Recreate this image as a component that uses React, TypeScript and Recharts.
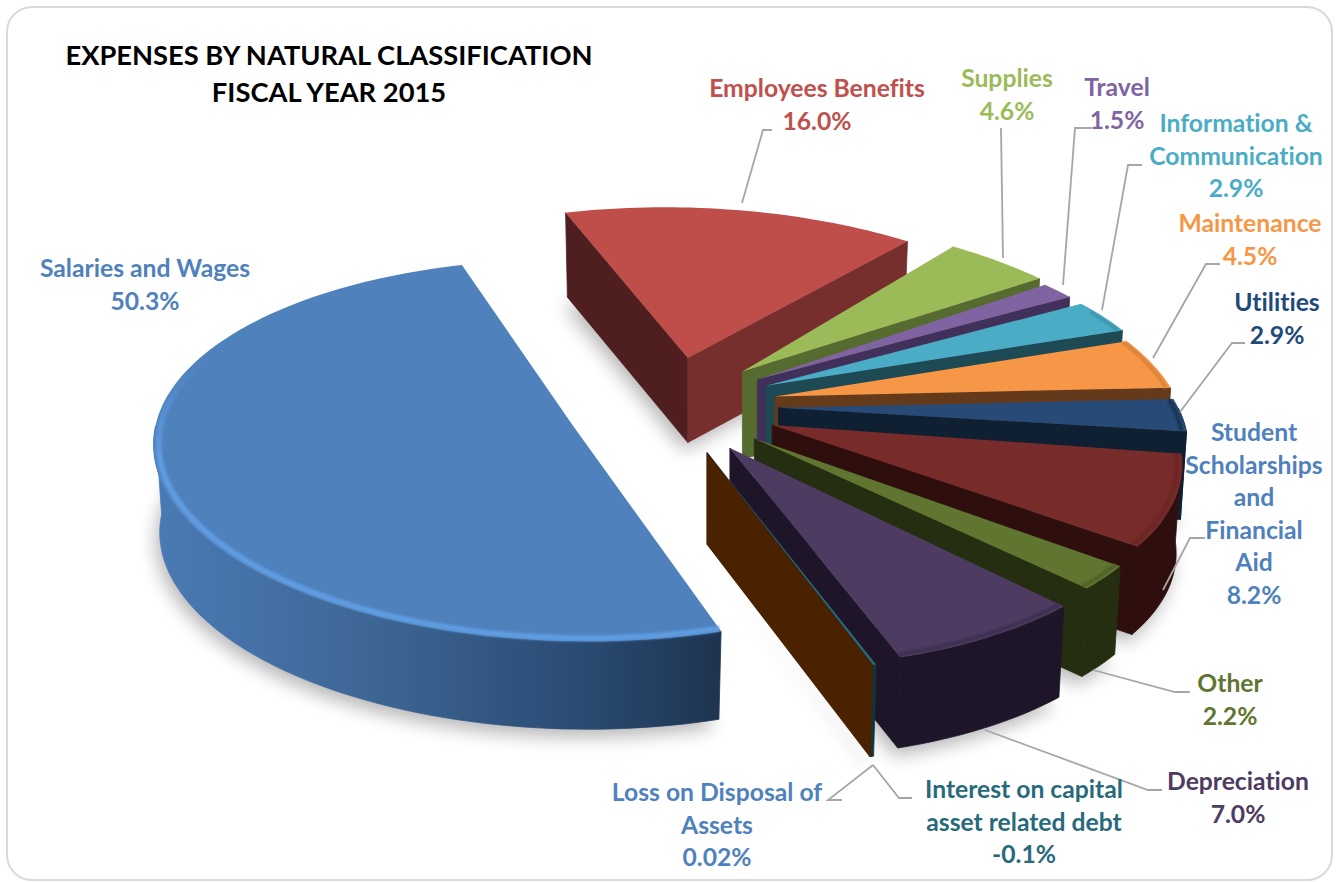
import { PieChart, Pie } from 'recharts'

const categories = [
  'Salaries and Wages',
  'Employees Benefits',
  'Supplies',
  'Travel',
  'Information & Communication',
  'Maintenance',
  'Utilities',
  'Student Scholarships and Financial Aid',
  'Other',
  'Depreciation',
  'Interest on capital asset related debt',
  'Loss on Disposal of Assets',
]
const shares = [50.3, 16.0, 4.6, 1.5, 2.9, 4.5, 2.9, 8.2, 2.2, 7.0, 0.1, 0.02]
const shareLabels = ['50.3%', '16.0%', '4.6%', '1.5%', '2.9%', '4.5%', '2.9%', '8.2%', '2.2%', '7.0%', '-0.1%', '0.02%']

const topColors = ['#4f81bd', '#bf4e4b', '#9bbb59', '#8064a2', '#4bacc6', '#f79646', '#274b76', '#772b2a', '#5f7530', '#4d3b62', '#276a7c', '#4d2600']
const wallColors = ['#2f5078', '#772f2d', '#566b30', '#41315a', '#1e4a55', '#653a1b', '#0f2033', '#2f0f0e', '#262e11', '#1e1628', '#0f3540', '#4a2200']
const startWallColors = ['#2f5078', '#4e1f1e', '#566b30', '#41315a', '#1e4a55', '#653a1b', '#0f2033', '#2f0f0e', '#262e11', '#1e1628', '#0f3540', '#4a2200']
const rimColors = ['url(#blueRim)', '', '', '#6f5591', '#3d95ac', '#d9823a', '#16304f', '#6a2524', '#4d6026', '#3d2f50', '', '']
const labelColors = ['#4f81bd', '#c0504d', '#9bbb59', '#8064a2', '#4bacc6', '#f79646', '#1f497d', '#4f81bd', '#5f7530', '#4d3b62', '#276a7c', '#4f81bd']

// per-slice corrections for the distorted 3d view of the original
const radiusScale = [1, 0.995, 1.02, 1, 1, 0.98, 0.97, 0.96, 0.965, 0.985, 0.99, 0.99]
const angleTwist = [-0.7, 0, 2, 3, 2.5, 2.5, 2.5, 1, 0, -1.2, -1.2, -1.2]
const explodeAmount = [0.26, 0.27, 0.27, 0.27, 0.27, 0.27, 0.27, 0.27, 0.27, 0.27, 0.27, 0.27]
const explodeTurn = [10.5, -2.2, 0, -2, -2, -2, -2, -1, 0, 1, 1, 1]
const depthScale = [1, 0.96, 1, 1, 1, 1, 1, 1, 1, 1.03, 1.04, 1.04]

// wrapped label text, pie label placement and leader lines
const labelLines = [
  ['Salaries and Wages'],
  ['Employees Benefits'],
  ['Supplies'],
  ['Travel'],
  ['Information &', 'Communication'],
  ['Maintenance'],
  ['Utilities'],
  ['Student', 'Scholarships', 'and', 'Financial', 'Aid'],
  ['Other'],
  ['Depreciation'],
  ['Interest on capital', 'asset related debt'],
  ['Loss on Disposal of', 'Assets'],
]
const labelX = [145, 817, 1007, 1117, 1236, 1250, 1277, 1254, 1230, 1238, 1024, 717]
const labelY = [277, 97, 87, 96, 132, 232, 311, 441, 692, 790, 798, 801]
const leaders = [
  '',
  '772,130 763,130 742,203',
  '1001,128 1003,258',
  '1092,128 1075,128 1063,285',
  '1142,165 1128,165 1102,310',
  '1220,264 1206,264 1153,358',
  '1245,343 1232,343 1180,412',
  '1205,538 1190,538 1163,590',
  '1190,692 1175,692 1093,670',
  '1162,790 1148,790 985,730',
  '912,798 899,798 873,765',
  '842,800 828,800 873,765',
]

// camera: unit-circle plane to screen with a little perspective
const CX = 667
const CY = 404
const RX = 411
const RY = 182
const SKEW = -25
const PERSP = 0.129
const DEPTH = 88
const BOTTOM_SHRINK = 0.985

const project = (u: number, v: number) => {
  const w = 1 + PERSP * v
  return [CX + (RX * u + SKEW * v) / w, CY - (RY * v) / w]
}

const rad = (a: number) => (a * Math.PI) / 180

const toPath = (pts: number[][], close = true) =>
  pts.map((p, i) => `${i ? 'L' : 'M'}${p[0].toFixed(1)},${p[1].toFixed(1)}`).join(' ') + (close ? ' Z' : '')

function sliceGeometry(props: any) {
  const i = categories.indexOf(props.name)
  const startAngle = props.startAngle + angleTwist[i]
  const endAngle = props.endAngle + angleTwist[i]
  const mid = (startAngle + endAngle) / 2 + explodeTurn[i]
  const ex = explodeAmount[i] * Math.cos(rad(mid))
  const ey = explodeAmount[i] * Math.sin(rad(mid))
  const apex = project(ex, ey)
  const steps = Math.max(2, Math.ceil(Math.abs(endAngle - startAngle) / 1.5))
  const angles: number[] = []
  for (let s = 0; s <= steps; s++) angles.push(startAngle + ((endAngle - startAngle) * s) / steps)
  const at = (t: number, r = 1) =>
    project(ex + r * radiusScale[i] * Math.cos(rad(t)), ey + r * radiusScale[i] * Math.sin(rad(t)))
  // bottom face sits slightly narrower than the top one
  const down = (pts: number[][]) =>
    pts.map((p) => [apex[0] + (p[0] - apex[0]) * BOTTOM_SHRINK, p[1] + DEPTH * depthScale[i]])
  return { i, startAngle, endAngle, apex, angles, at, down }
}

function ShadowSlice(props: any) {
  const { apex, angles, at, down } = sliceGeometry(props)
  const arc = angles.map((t) => at(t))
  const pts = down([apex, ...arc]).map((p) => [p[0] - 4, p[1] + 8])
  return <path d={toPath(pts)} fill="#000" opacity={0.28} filter="url(#softShadow)" />
}

function Slice3D(props: any) {
  const { i, startAngle, endAngle, apex, angles, at, down } = sliceGeometry(props)
  const arc = angles.map((t) => at(t))
  const front = angles.filter((t) => Math.sin(rad(t)) < 0).map((t) => at(t))
  const rim = angles.filter((t) => Math.sin(rad(t)) < 0.45).map((t) => at(t, 0.988))
  const startPt = at(startAngle)
  const endPt = at(endAngle)
  const gradId = `wall-${i}`
  const wall = i === 0 ? `url(#${gradId})` : wallColors[i]
  return (
    <g>
      {i === 0 && (
        <defs>
          <linearGradient id={gradId} gradientUnits="userSpaceOnUse" x1="155" y1="0" x2="720" y2="0">
            <stop offset="0%" stopColor="#4a7ab5" />
            <stop offset="35%" stopColor="#3f6898" />
            <stop offset="75%" stopColor="#2a4b73" />
            <stop offset="100%" stopColor="#1e3450" />
          </linearGradient>
          <linearGradient id="blueRim" gradientUnits="userSpaceOnUse" x1="0" y1="360" x2="0" y2="460">
            <stop offset="0%" stopColor="#5f9be0" stopOpacity={0} />
            <stop offset="100%" stopColor="#5f9be0" stopOpacity={1} />
          </linearGradient>
        </defs>
      )}
      {front.length > 1 && (
        <path d={toPath([...front, ...down(front).reverse()])} fill={wall} stroke={wall} strokeWidth={0.8} />
      )}
      {Math.cos(rad(startAngle)) < 0 && (
        <path
          d={toPath([apex, startPt, ...down([startPt]), ...down([apex])])}
          fill={startWallColors[i]}
          stroke={startWallColors[i]}
          strokeWidth={0.8}
        />
      )}
      {Math.cos(rad(endAngle)) > 0 && (
        <path
          d={toPath([apex, endPt, ...down([endPt]), ...down([apex])])}
          fill={wallColors[i]}
          stroke={wallColors[i]}
          strokeWidth={0.8}
        />
      )}
      <path d={toPath([apex, ...arc])} fill={topColors[i]} />
      {rimColors[i] && rim.length > 2 && (
        <path
          d={toPath(rim, false)}
          fill="none"
          stroke={rimColors[i]}
          strokeWidth={i === 0 ? 6 : 3.5}
          filter="url(#softRim)"
        />
      )}
    </g>
  )
}

function renderLabel(props: any) {
  const i = props.index
  const lines = [...labelLines[i], shareLabels[i]]
  return (
    <g key={categories[i]}>
      {leaders[i] && <polyline points={leaders[i]} fill="none" stroke="#a6a6a6" strokeWidth={1.8} />}
      <text
        textAnchor="middle"
        fontFamily="Lato, sans-serif"
        fontWeight={700}
        fontSize={24.7}
        fill={labelColors[i]}
        style={{ fontVariantLigatures: 'none' }}
      >
        {lines.map((line, n) => (
          <tspan key={n} x={labelX[i]} y={labelY[i] + n * 32.6}>
            {line}
          </tspan>
        ))}
      </text>
    </g>
  )
}

const data = categories.map((name, i) => ({ name, value: shares[i] }))

export default function App() {
  return (
    <div style={{ position: 'absolute', left: 0, top: 0, width: 1340, height: 882, background: '#fff' }}>
      <div
        style={{
          position: 'absolute',
          left: 6,
          top: 6,
          width: 1323,
          height: 871,
          border: '2px solid #d9d9d9',
          borderRadius: 26,
        }}
      />
      <svg width={0} height={0} style={{ position: 'absolute' }}>
        <defs>
          <filter id="softShadow" x="-20%" y="-20%" width="140%" height="140%">
            <feGaussianBlur stdDeviation="9" />
          </filter>
          <filter id="softRim" x="-5%" y="-5%" width="110%" height="110%">
            <feGaussianBlur stdDeviation="1.2" />
          </filter>
        </defs>
      </svg>
      <div style={{ position: 'absolute', left: 0, top: 0 }}>
        <PieChart width={1340} height={882} margin={{ top: 0, right: 0, bottom: 0, left: 0 }}>
          <Pie
            data={data}
            dataKey="value"
            nameKey="name"
            cx={CX}
            cy={CY}
            outerRadius={RX}
            startAngle={-73}
            endAngle={-433}
            stroke="none"
            isAnimationActive={false}
            shape={ShadowSlice}
          />
          <Pie
            data={data}
            dataKey="value"
            nameKey="name"
            cx={CX}
            cy={CY}
            outerRadius={RX}
            startAngle={-73}
            endAngle={-433}
            stroke="none"
            isAnimationActive={false}
            shape={Slice3D}
            label={renderLabel}
            labelLine={false}
          />
        </PieChart>
      </div>
      <div
        style={{
          position: 'absolute',
          left: 0,
          top: 36,
          width: 658,
          textAlign: 'center',
          fontFamily: 'Lato, sans-serif',
          fontWeight: 700,
          fontSize: 27.3,
          lineHeight: '37px',
          color: '#000',
          fontVariantLigatures: 'none',
        }}
      >
        EXPENSES BY NATURAL CLASSIFICATION
        <br />
        FISCAL YEAR 2015
      </div>
    </div>
  )
}
